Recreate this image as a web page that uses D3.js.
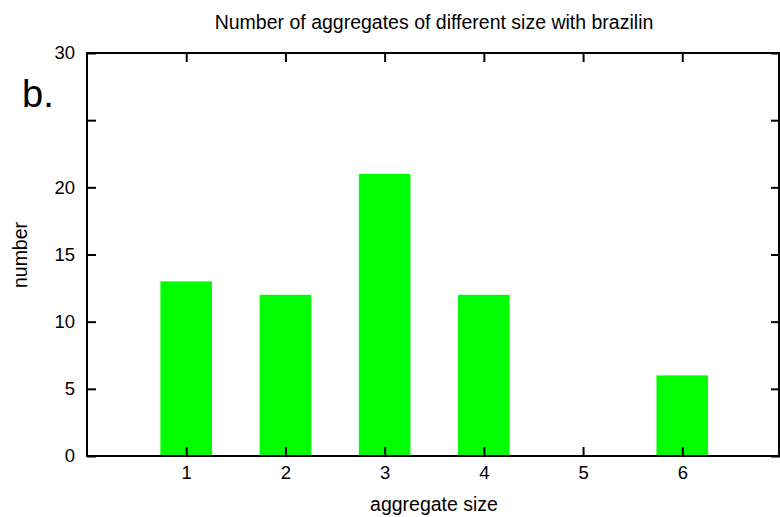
<!DOCTYPE html>
<html><head><meta charset="utf-8">
<script src="https://cdn.jsdelivr.net/npm/d3@7"></script>
<style>body{margin:0;background:#fff}svg{display:block}text{font-family:"Liberation Sans",Arial,sans-serif;fill:#000}</style>
</head><body>
<script>
const categories = [1, 2, 3, 4, 5, 6];
const values = [13, 12, 21, 12, 0, 6];
const yTicks = [0, 5, 10, 15, 20, 25, 30];
const yTickLabels = ["0", "5", "10", "15", "20", "", "30"];
const title = "Number of aggregates of different size with brazilin";
const xTitle = "aggregate size";
const yTitle = "number";
const panelLabel = "b.";

const W = 780, H = 517;
const L = 87, R = 780, T = 53, B = 456;
const svg = d3.select("body").append("svg").attr("width", W).attr("height", H);

const x = d3.scaleLinear().domain([0, 7]).range([L, 781.5]);
const y = d3.scaleLinear().domain([0, 30]).range([B, T]);
const bw = 0.52;

svg.append("g").selectAll("rect").data(categories).join("rect")
  .attr("x", (d) => x(d - bw / 2))
  .attr("width", (d) => x(bw) - x(0))
  .attr("y", (d, i) => y(values[i]))
  .attr("height", (d, i) => y(0) - y(values[i]))
  .attr("fill", "#00ff00");

// frame
svg.append("rect").attr("x", L).attr("y", T).attr("width", R - L - 1).attr("height", B - T)
  .attr("fill", "none").attr("stroke", "#000").attr("stroke-width", 2);

const tl = 9;
const fs = "18.5px";
const tfs = "19.5px";
// left axis
const yAxis = d3.axisLeft(y).tickValues(yTicks).tickSize(-tl).tickPadding(12)
  .tickFormat((d, i) => yTickLabels[i]);
const gy = svg.append("g").attr("transform", `translate(${L},0)`).call(yAxis);
gy.select(".domain").remove();
gy.selectAll("line").attr("stroke-width", 2);
gy.selectAll("text").style("font-size", fs).style("font-family", "Liberation Sans, Arial, sans-serif");
// right ticks
const gyr = svg.append("g").attr("transform", `translate(${R},0)`).call(d3.axisRight(y).tickValues(yTicks).tickSize(-tl).tickFormat(""));
gyr.select(".domain").remove();
gyr.selectAll("line").attr("stroke-width", 2);

// bottom axis
const xAxis = d3.axisBottom(x).tickValues(categories).tickSize(-tl).tickPadding(10).tickFormat(d3.format("d"));
const gx = svg.append("g").attr("transform", `translate(0,${B})`).call(xAxis);
gx.select(".domain").remove();
gx.selectAll("line").attr("stroke-width", 2);
gx.selectAll("text").style("font-size", fs).style("font-family", "Liberation Sans, Arial, sans-serif");
// top ticks
const gxt = svg.append("g").attr("transform", `translate(0,${T})`).call(d3.axisTop(x).tickValues(categories).tickSize(-tl).tickFormat(""));
gxt.select(".domain").remove();
gxt.selectAll("line").attr("stroke-width", 2);

svg.append("text").attr("x", 434).attr("y", 29).attr("text-anchor", "middle").style("font-size", tfs).text(title);
svg.append("text").attr("x", 434).attr("y", 511).attr("text-anchor", "middle").style("font-size", tfs).text(xTitle);
svg.append("text").attr("transform", "translate(27,255) rotate(-90)").attr("text-anchor", "middle").style("font-size", tfs).text(yTitle);
svg.append("text").attr("x", 22).attr("y", 107).style("font-size", "38px").text(panelLabel);
</script>
</body></html>
